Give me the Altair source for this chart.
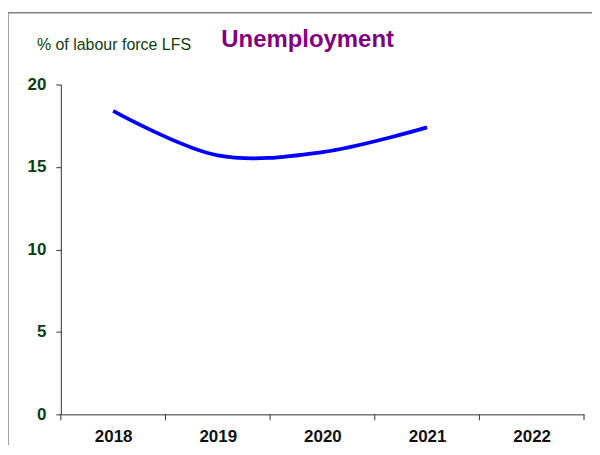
import altair as alt
import pandas as pd

years = [2018, 2019, 2020, 2021]
values = [18.4, 15.7, 15.9, 17.4]
axis_years = [2018, 2019, 2020, 2021, 2022]
band_edges = [2017.5, 2018.5, 2019.5, 2020.5, 2021.5, 2022.5]

W, H = 525, 331

df = pd.DataFrame({"year": years, "value": values})
edges = pd.DataFrame({"edge": band_edges})

xscale = alt.Scale(domain=[2017.5, 2022.5], nice=False, zero=False)

line = alt.Chart(df).mark_line(
    color="#0000ff", strokeWidth=3.8, interpolate="catmull-rom"
).encode(
    x=alt.X("year:Q", scale=xscale,
            axis=alt.Axis(values=axis_years, format="d", title=None, ticks=False,
                          grid=False, domainColor="#333333", domainWidth=1,
                          labelFont="Liberation Sans", labelFontSize=17, labelFontWeight="bold",
                          labelColor="#111111", labelPadding=14)),
    y=alt.Y("value:Q", scale=alt.Scale(domain=[0, 20], nice=False),
            axis=alt.Axis(values=[0, 5, 10, 15, 20], title=None, grid=False,
                          tickSize=5, tickColor="#333333", domainColor="#333333",
                          labelFont="Liberation Sans", labelFontSize=17, labelFontWeight="bold",
                          labelColor="#0d3d0d", labelPadding=10)),
)

ticks = alt.Chart(edges).mark_rule(color="#333333", strokeWidth=1).encode(
    x=alt.X("edge:Q", scale=xscale),
    y=alt.value(H),
    y2=alt.value(H + 6),
)

frame_top = alt.Chart(alt.Data(values=[{}])).mark_rule(
    stroke="#808080", strokeWidth=1.5
).encode(x=alt.value(-53), x2=alt.value(W + 12), y=alt.value(-72))

frame_left = alt.Chart(alt.Data(values=[{}])).mark_rule(
    stroke="#808080", strokeWidth=1.5
).encode(x=alt.value(-53), y=alt.value(-72), y2=alt.value(H + 60))

title = alt.Chart(alt.Data(values=[{}])).mark_text(
    text="Unemployment", font="Liberation Sans", fontSize=24, fontWeight="bold",
    color="#800080", align="left", baseline="middle"
).encode(x=alt.value(161), y=alt.value(-45))

unit = alt.Chart(alt.Data(values=[{}])).mark_text(
    text="% of labour force LFS", font="Liberation Sans", fontSize=16,
    color="#0d3d0d", align="left", baseline="middle"
).encode(x=alt.value(-24), y=alt.value(-40))

chart = alt.layer(frame_top, frame_left, line, ticks, title, unit).properties(
    width=W, height=H,
    padding={"left": 53, "top": 76, "right": 8, "bottom": 30},
    autosize=alt.AutoSizeParams(type="none"),
).configure_view(stroke=None)

chart.save("out.html", embed_options={"renderer": "svg", "actions": False})
